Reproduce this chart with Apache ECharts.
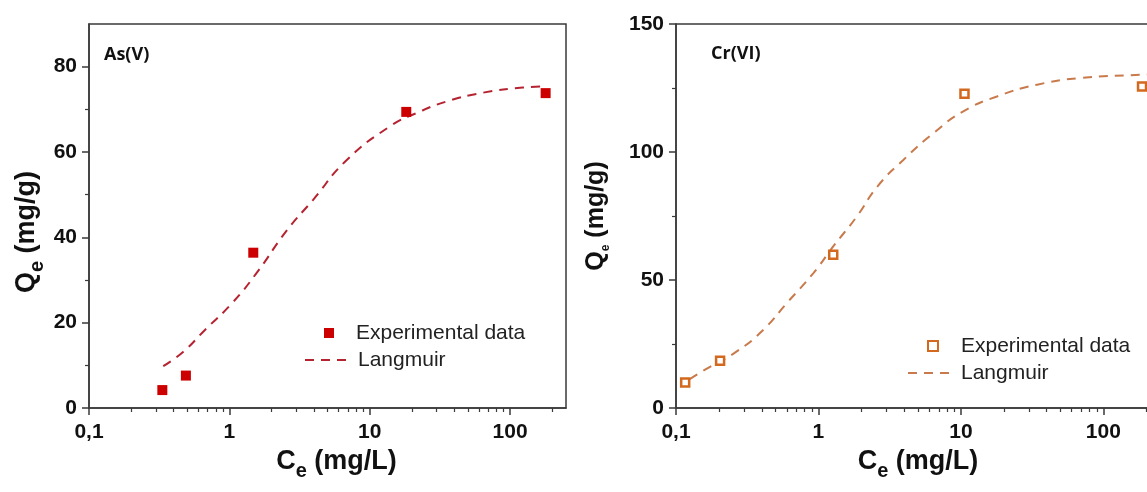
<!DOCTYPE html>
<html>
<head>
<meta charset="utf-8">
<script src="https://cdn.jsdelivr.net/npm/echarts@6/dist/echarts.min.js"></script>
<style>
  html, body { margin: 0; padding: 0; background: #fff; }
  #chart { width: 1147px; height: 492px; }
</style>
</head>
<body>
<div id="chart"></div>
<script>
// As(V) data
const asCe = [0.333, 0.49, 1.48, 18.2, 179];
const asQe = [4.2, 7.6, 36.4, 69.4, 73.8];
const asFitCe = [0.338, 0.47, 0.67, 1.04, 1.56, 2.55, 3.95, 6.8, 13.9, 21.5, 35, 64, 123, 181];
const asFitQe = [9.8, 13.2, 18.3, 24.5, 31.6, 41.5, 48.8, 58, 66, 69.1, 71.8, 73.9, 75.1, 75.4];

// Cr(VI) data
const crCe = [0.116, 0.204, 1.27, 10.6, 187];
const crQe = [10, 18.5, 59.9, 122.8, 125.6];
const crFitCe = [0.125, 0.16, 0.267, 0.411, 0.6, 0.922, 1.27, 1.86, 2.6, 3.96, 6.43, 10.4, 17.9, 34.3, 69, 182, 204];
const crFitQe = [11.3, 15, 22.1, 30.6, 41, 52.7, 63.1, 74.8, 86.6, 97, 107.4, 115.9, 121.7, 126.3, 128.9, 130.2, 130.3];

// ticks
const xMajor = [0.1, 1, 10, 100];
const xMinor = [0.2, 0.3, 0.4, 0.5, 0.6, 0.7, 0.8, 0.9, 2, 3, 4, 5, 6, 7, 8, 9,
                20, 30, 40, 50, 60, 70, 80, 90, 200];
const asYMajor = [0, 20, 40, 60, 80];
const asYMinor = [10, 30, 50, 70];
const crYMajor = [0, 50, 100, 150];
const crYMinor = [25, 75, 125];

const legendNames = {
    as_exp: 'Experimental data', as_fit: 'Langmuir',
    cr_exp: 'Experimental data', cr_fit: 'Langmuir'
};

const zip = (a, b) => a.map((v, i) => [v, b[i]]);

const FONT = 'Liberation Sans, Arial, sans-serif';
const AXIS_COLOR = '#3a3a3a';
const nameRich = (size, sub, drop) => ({
    b: { fontSize: size, fontWeight: 'bold', fontFamily: FONT, color: '#111', verticalAlign: 'top', lineHeight: size + 4 },
    s: { fontSize: sub, fontWeight: 'bold', fontFamily: FONT, color: '#111', verticalAlign: 'top', lineHeight: sub, padding: [drop, 0, 0, 0] }
});

function mainX(grid, pad) {
    return {
        type: 'log', logBase: 10, gridIndex: grid, min: 0.1, max: 250,
        name: '{b|C}{s|e}{b| (mg/L)}', nameLocation: 'middle', nameGap: 37,
        nameTextStyle: { rich: nameRich(27, 20, 14), padding: pad },
        axisLine: { lineStyle: { color: AXIS_COLOR, width: 1.5 } },
        axisTick: { inside: false, length: 7, customValues: xMajor, lineStyle: { color: AXIS_COLOR, width: 1.5 } },
        axisLabel: {
            customValues: xMajor, margin: 14, fontSize: 21, fontWeight: 'bold', fontFamily: FONT, color: '#111',
            formatter: v => (v < 0.5 ? '0,1' : String(Math.round(v)))
        },
        splitLine: { show: false }, minorTick: { show: false }
    };
}
function minorX(grid) {
    return {
        type: 'log', logBase: 10, gridIndex: grid, min: 0.1, max: 250, position: 'bottom',
        axisLine: { show: false },
        axisTick: { length: 4, customValues: xMinor, lineStyle: { color: AXIS_COLOR, width: 1.2 } },
        axisLabel: { show: false }, splitLine: { show: false }
    };
}
function mainY(grid, max, major, gap, size, sub, drop, pad) {
    return {
        type: 'value', gridIndex: grid, min: 0, max: max,
        name: '{b|Q}{s|e}{b| (mg/g)}', nameLocation: 'middle', nameGap: gap,
        nameTextStyle: { rich: nameRich(size, sub, drop), padding: pad },
        axisLine: { show: true, lineStyle: { color: AXIS_COLOR, width: 1.5 } },
        axisTick: { show: true, length: 7, customValues: major, lineStyle: { color: AXIS_COLOR, width: 1.5 } },
        axisLabel: { customValues: major, margin: 12, fontSize: 21, fontWeight: 'bold', fontFamily: FONT, color: '#111' },
        splitLine: { show: false }
    };
}
function minorY(grid, max, minor) {
    return {
        type: 'value', gridIndex: grid, min: 0, max: max, position: 'left',
        axisLine: { show: false },
        axisTick: { show: true, length: 4, customValues: minor, lineStyle: { color: AXIS_COLOR, width: 1.2 } },
        axisLabel: { show: false }, splitLine: { show: false }
    };
}
function legendBox(name, left, top, w, pad, lineOnly) {
    const lg = {
        data: [name], left: left, top: top, orient: 'vertical',
        itemWidth: w, itemHeight: 10, selectedMode: false,
        formatter: n => legendNames[n],
        textStyle: { fontSize: 21, fontFamily: FONT, color: '#222', lineHeight: 22, padding: [0, 0, 0, pad] }
    };
    if (lineOnly) lg.itemStyle = { opacity: 0 };
    return lg;
}

const chart = echarts.init(document.getElementById('chart'));

const option = {
    animation: false,
    backgroundColor: '#fff',
    title: [
        { text: 'As(V)', left: 99, top: 41, textStyle: { fontSize: 18, fontWeight: 'bold', fontFamily: 'Open Sans', color: '#111' } },
        { text: 'Cr(VI)', left: 706, top: 40, textStyle: { fontSize: 18, fontWeight: 'bold', fontFamily: 'Open Sans', color: '#111' } }
    ],
    grid: [
        { left: 89, top: 24, width: 477, height: 384, show: true, borderColor: AXIS_COLOR, borderWidth: 1.5, outerBoundsMode: 'none' },
        { left: 676, top: 24, width: 484, height: 384, show: true, borderColor: AXIS_COLOR, borderWidth: 1.5, outerBoundsMode: 'none' }
    ],
    xAxis: [mainX(0, [0, 0, 0, 18]), minorX(0), mainX(1, 0), minorX(1)],
    yAxis: [
        mainY(0, 90, asYMajor, 45, 27, 20, 14, [0, 32, 0, 0]), minorY(0, 90, asYMinor),
        mainY(1, 150, crYMajor, 63, 25, 12, 16, 0), minorY(1, 150, crYMinor)
    ],
    legend: [
        legendBox('as_exp', 319, 317, 10, 17, false),
        legendBox('as_fit', 299, 344, 46, 2, true),
        legendBox('cr_exp', 922, 330, 10, 18, false),
        legendBox('cr_fit', 902, 357, 46, 2, true)
    ],
    series: [
        {
            name: 'as_fit', type: 'line', xAxisIndex: 0, yAxisIndex: 0,
            data: zip(asFitCe, asFitQe), smooth: true, symbol: 'none', showSymbol: false,
            itemStyle: { color: '#b52331' },
            lineStyle: { color: '#b52331', width: 2, type: [9, 7] }, z: 2
        },
        {
            name: 'as_exp', type: 'scatter', xAxisIndex: 0, yAxisIndex: 0,
            data: zip(asCe, asQe), symbol: 'rect', symbolSize: 10,
            itemStyle: { color: '#cc0000', opacity: 1 }, z: 3
        },
        {
            name: 'cr_fit', type: 'line', xAxisIndex: 2, yAxisIndex: 2,
            data: zip(crFitCe, crFitQe), smooth: true, symbol: 'none', showSymbol: false,
            itemStyle: { color: '#c97a4c' },
            lineStyle: { color: '#c97a4c', width: 2, type: [9, 7] }, z: 2
        },
        {
            name: 'cr_exp', type: 'scatter', xAxisIndex: 2, yAxisIndex: 2,
            data: zip(crCe, crQe), symbol: 'rect', symbolSize: 8, clip: false,
            itemStyle: { color: '#fff', borderColor: '#d2691e', borderWidth: 2.5, opacity: 1 }, z: 3
        }
    ]
};

chart.setOption(option);
</script>
</body>
</html>
